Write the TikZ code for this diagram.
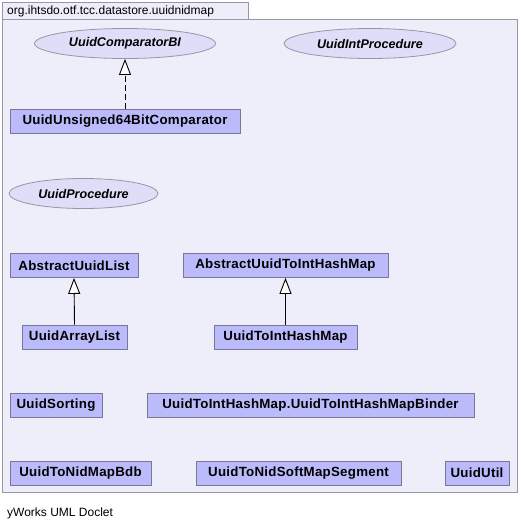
\documentclass[tikz,border=0pt]{standalone}
\usepackage{fontspec}
\setmainfont{Liberation Sans}
\newfontfamily\boxfont[LetterSpace=2]{Liberation Sans}
\usetikzlibrary{arrows.meta,shapes.geometric}
\definecolor{pkgfill}{RGB}{238,238,250}
\definecolor{pkgline}{RGB}{150,150,165}
\definecolor{clsfill}{RGB}{187,187,252}
\definecolor{clsline}{RGB}{120,120,150}
\definecolor{ifcfill}{RGB}{222,222,248}
\tikzset{
  cls/.style={draw=clsline, fill=clsfill, line width=0.8pt, inner sep=0pt, minimum height=24pt,
    font=\boxfont\fontsize{13.3}{15}\selectfont\bfseries},
  ifc/.style={ellipse, draw=pkgline, fill=ifcfill, line width=0.8pt, inner sep=0pt, minimum height=30pt,
    font=\fontsize{12.6}{14}\selectfont\bfseries\itshape},
  inh/.style={-{Triangle[open,length=16pt,width=12pt,fill=white]}, line width=0.9pt, black},
}
\begin{document}
\begin{tikzpicture}[x=1pt,y=-1pt]
\useasboundingbox (0,0) rectangle (520,530);
% package
\draw[pkgline, fill=pkgfill, line width=0.8pt] (2,19) rectangle (517,492);
\draw[pkgline, fill=pkgfill, line width=0.8pt] (2,2) rectangle (248,19);
\node[anchor=west, font=\fontsize{12}{14}\selectfont, inner sep=0pt] (pkg) at (7,11) {org.ihtsdo.otf.tcc.datastore.uuidnidmap};
% interfaces
\node[ifc, minimum width=181pt] (cmpbi) at (125,43.5) {UuidComparatorBI};
\node[ifc, minimum width=172pt] (intproc) at (370,43.5) {UuidIntProcedure};
\node[ifc, minimum width=149pt] (proc) at (83.5,193.5) {UuidProcedure};
% classes
\node[cls, minimum width=230pt] (u64) at (125,121) {UuidUnsigned64BitComparator};
\node[cls, minimum width=128pt] (absl) at (74,265.5) {AbstractUuidList};
\node[cls, minimum width=205pt] (absm) at (285.5,265.5) {AbstractUuidToIntHashMap};
\node[cls, minimum width=105pt] (arrl) at (74.5,337) {UuidArrayList};
\node[cls, minimum width=143pt] (hmap) at (285.5,337) {UuidToIntHashMap};
\node[cls, minimum width=92pt] (sort) at (56,405.5) {UuidSorting};
\node[cls, minimum width=327pt] (bind) at (310.5,405.5) {UuidToIntHashMap.UuidToIntHashMapBinder};
\node[cls, minimum width=141pt] (bdb) at (80.5,473) {UuidToNidMapBdb};
\node[cls, minimum width=205pt] (seg) at (298.5,473) {UuidToNidSoftMapSegment};
\node[cls, minimum width=64pt] (util) at (477,473) {UuidUtil};
% connectors
\draw[inh, dash pattern=on 6pt off 3pt] (u64.north) -- (cmpbi.south);
\draw[inh] (arrl.north) -- (absl.south);
\draw[inh] (hmap.north) -- (absm.south);
% footer
\node[anchor=west, font=\fontsize{12}{14}\selectfont, inner sep=0pt] (doclet) at (7,513) {yWorks UML Doclet};
\end{tikzpicture}
\end{document}
